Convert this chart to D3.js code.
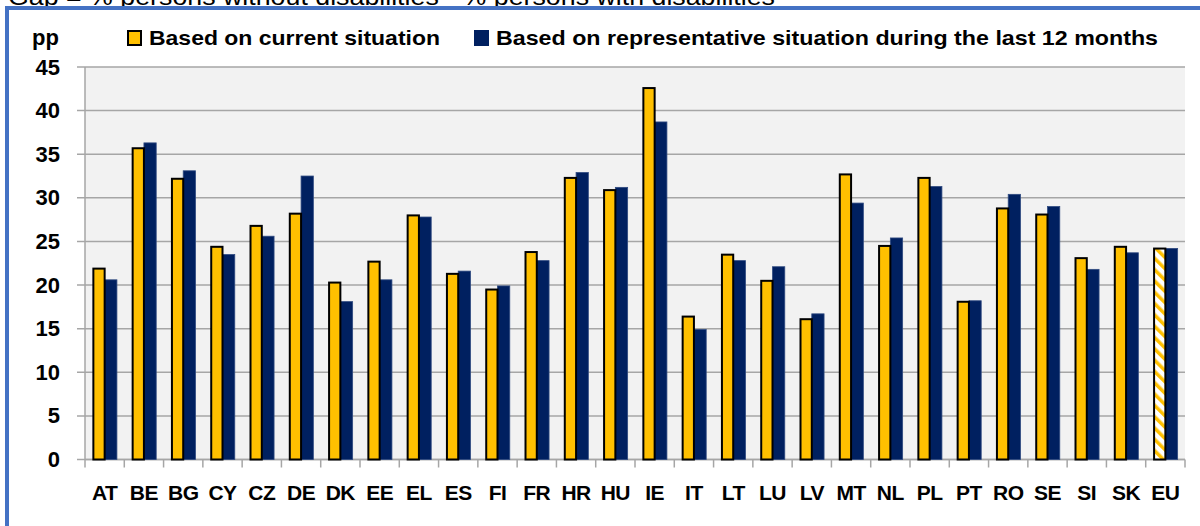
<!DOCTYPE html>
<html>
<head>
<meta charset="utf-8">
<script src="https://cdn.jsdelivr.net/npm/d3@7"></script>
<style>
  html, body { margin: 0; padding: 0; background: #fff; }
  svg { display: block; font-family: "Liberation Sans", Arial, sans-serif; }
</style>
</head>
<body>
<svg id="chart" width="1200" height="526"></svg>
<script>
const categories = ["AT","BE","BG","CY","CZ","DE","DK","EE","EL","ES","FI","FR","HR","HU","IE","IT","LT","LU","LV","MT","NL","PL","PT","RO","SE","SI","SK","EU"];
const currentSituation = [22.0,35.8,32.3,24.5,26.9,28.3,20.4,22.8,28.1,21.4,19.6,23.9,32.4,31.0,42.7,16.5,23.6,20.6,16.2,32.8,24.6,32.4,18.2,28.9,28.2,23.2,24.5,24.3];
const representativeSituation = [20.6,36.3,33.1,23.5,25.6,32.5,18.1,20.6,27.8,21.6,19.9,22.8,32.9,31.2,38.7,14.9,22.8,22.1,16.7,29.4,25.4,31.3,18.2,30.4,29.0,21.8,23.7,24.2];
const seriesNames = ["Based on current situation","Based on representative situation during the last 12 months"];
const yTicks = [0,5,10,15,20,25,30,35,40,45];
const titleText = "Gap = % persons without disabilities - % persons with disabilities";
const unitLabel = "pp";

const svg = d3.select("#chart");
const plot = {left: 85, right: 1185, top: 67, bottom: 459.5};
const YELLOW = "#FFC000", BLUE = "#002060", FRAME = "#4472C4";
const FONT = "'Liberation Sans', Arial, sans-serif";

// defs: EU hatch pattern
const defs = svg.append("defs");
const pat = defs.append("pattern").attr("id","hatch").attr("patternUnits","userSpaceOnUse")
  .attr("width",8).attr("height",8).attr("patternTransform","rotate(-45)");
pat.append("rect").attr("width",8).attr("height",8).attr("fill","#fff");
pat.append("rect").attr("width",3.5).attr("height",8).attr("fill",YELLOW);

// cut-off title at top
svg.append("text").attr("x",8).attr("y",5).attr("font-size",24)
  .attr("font-family",FONT).attr("fill","#000")
  .attr("textLength",767).attr("lengthAdjust","spacingAndGlyphs").text(titleText);

// frame
svg.append("rect").attr("x",7).attr("y",8).attr("width",1210).attr("height",540)
  .attr("fill","#fff").attr("stroke",FRAME).attr("stroke-width",4);

const x = d3.scaleBand().domain(categories).range([plot.left, plot.right]).padding(0);
const y = d3.scaleLinear().domain([0,45]).range([plot.bottom, plot.top]);
const sub = d3.scaleBand().domain([0,1]).range([0, x.bandwidth()]).paddingInner(0).paddingOuter(0.6);

// plot background
svg.append("rect").attr("x",plot.left).attr("y",plot.top).attr("width",plot.right-plot.left)
  .attr("height",plot.bottom-plot.top).attr("fill","#f2f2f2");

// gridlines
svg.append("g").selectAll("line").data(yTicks).join("line")
  .attr("x1",plot.left-8).attr("x2",plot.right)
  .attr("y1",d=>y(d)).attr("y2",d=>y(d))
  .attr("stroke","#a6a6a6").attr("stroke-width",1.5);

// y axis line
svg.append("line").attr("x1",plot.left).attr("x2",plot.left).attr("y1",plot.top).attr("y2",plot.bottom)
  .attr("stroke","#a6a6a6").attr("stroke-width",1.5);

// y axis labels
const yAxis = d3.axisLeft(y).tickValues(yTicks).tickSize(0).tickPadding(0);
const gy = svg.append("g").attr("transform",`translate(${plot.left-25},0)`).call(yAxis);
gy.select(".domain").remove();
gy.selectAll("text").attr("font-size",22).attr("font-weight","bold").attr("fill","#000")
  .attr("font-family",FONT);

// x axis
const xAxis = d3.axisBottom(x).tickSize(0).tickPadding(0);
const gx = svg.append("g").attr("transform",`translate(0,${plot.bottom})`).call(xAxis);
gx.select(".domain").remove();
gx.selectAll("text").attr("y",26).attr("font-size",21).attr("font-weight","bold").attr("fill","#000")
  .attr("font-family",FONT).attr("letter-spacing","-0.5");
// x tick marks at category boundaries
const bounds = categories.map(c=>x(c)).concat([plot.right]);
svg.append("g").selectAll("line").data(bounds).join("line")
  .attr("x1",d=>d).attr("x2",d=>d).attr("y1",plot.bottom).attr("y2",plot.bottom+8)
  .attr("stroke","#a6a6a6").attr("stroke-width",1.5);
svg.append("line").attr("x1",plot.left).attr("x2",plot.right).attr("y1",plot.bottom).attr("y2",plot.bottom)
  .attr("stroke","#a6a6a6").attr("stroke-width",1.5);

// bars
const data = categories.map((c,i)=>({c, v0: currentSituation[i], v1: representativeSituation[i]}));
const bars = svg.append("g");
bars.selectAll("rect.rep").data(data).join("rect").attr("class","rep")
  .attr("x",d=>x(d.c)+sub(1)).attr("width",sub.bandwidth())
  .attr("y",d=>y(d.v1)).attr("height",d=>y(0)-y(d.v1))
  .attr("fill",BLUE).attr("stroke","#2f4a80").attr("stroke-width",0.8);
bars.selectAll("rect.cur").data(data).join("rect").attr("class","cur")
  .attr("x",d=>x(d.c)+sub(0)+1).attr("width",sub.bandwidth()-1)
  .attr("y",d=>y(d.v0)+1).attr("height",d=>y(0)-y(d.v0)-1)
  .attr("fill",d=>d.c==="EU" ? "url(#hatch)" : YELLOW)
  .attr("stroke","#000").attr("stroke-width",2);

// legend
const lg = svg.append("g").attr("font-family",FONT)
  .attr("font-weight","bold").attr("font-size",21).attr("fill","#000");
lg.append("text").attr("x",32).attr("y",45).attr("font-size",22).text(unitLabel);
lg.append("rect").attr("x",128).attr("y",31).attr("width",13).attr("height",14)
  .attr("fill",YELLOW).attr("stroke","#000").attr("stroke-width",2);
lg.append("text").attr("x",149).attr("y",45)
  .attr("textLength",291).attr("lengthAdjust","spacingAndGlyphs").text(seriesNames[0]);
lg.append("rect").attr("x",474).attr("y",30).attr("width",15).attr("height",16).attr("fill",BLUE);
lg.append("text").attr("x",496).attr("y",45)
  .attr("textLength",662).attr("lengthAdjust","spacingAndGlyphs").text(seriesNames[1]);
</script>
</body>
</html>
